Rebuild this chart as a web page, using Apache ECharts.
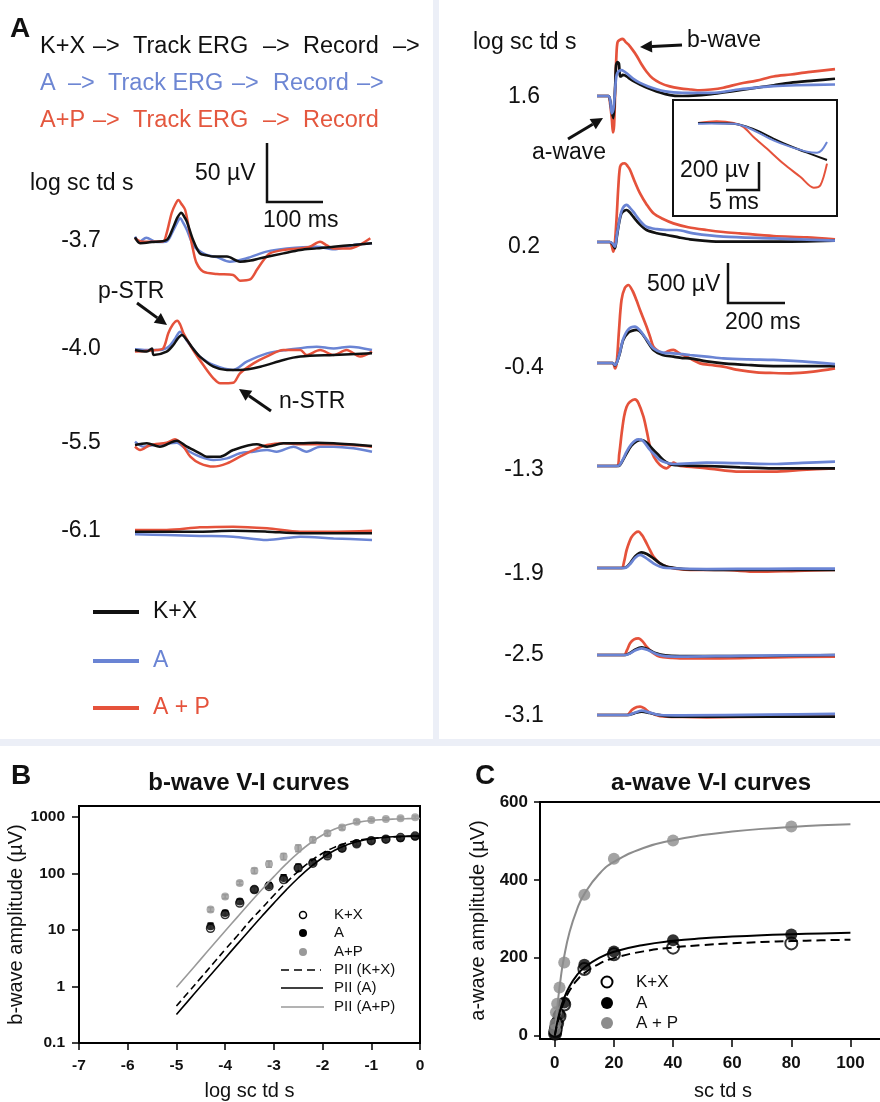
<!DOCTYPE html>
<html><head><meta charset="utf-8">
<script src="https://cdn.jsdelivr.net/npm/echarts@6/dist/echarts.min.js"></script>
<style>html,body{margin:0;padding:0;background:#fff}#c{width:880px;height:1102px}</style>
</head><body><div id="c"></div>
<script>
// ---------------- DATA ----------------
// Panel A left: STR traces [time ms, µV]
const strLabels = ['-3.7', '-4.0', '-5.5', '-6.1'];
const str37KX = [[0,4],[9,-1],[30,0],[56,1.7],[68,13],[75,21],[82,25.3],[87,22],[92,17.5],[103,1.7],[115,-9.8],[127,-11.5],[139,-12.6],[163,-12.6],[186,-17],[205,-16],[222,-14],[263,-9.8],[293,-6.9],[322,-5.5],[352,-4],[387,-2.6],[420,-1.1]];
const str37A = [[0,4.6],[8,0.3],[20,3.7],[38,0],[56,0.5],[68,10.3],[75,17],[80,20.4],[86,16],[92,10.3],[103,-2.6],[115,-8],[127,-11.2],[145,-13],[168,-17],[198,-14],[233,-8.3],[269,-5.5],[322,-4],[352,-6.3],[387,-2.6],[420,-1.1]];
const str37AP = [[0,3.2],[10,0.5],[30,0.3],[50,0.6],[56,7.5],[65,25],[72,33],[77,36.2],[82,33],[89,27.6],[97,7.5],[103,-6.9],[109,-18],[121,-25.6],[145,-27.6],[174,-28.4],[186,-33.3],[204,-32.2],[216,-24],[228,-15.5],[239,-9.8],[263,-6.9],[293,-5.5],[310,-4],[328,0.3],[340,-3],[352,-5.5],[381,-5.5],[400,-2],[417,3.2]];
const str40KX = [[0,0],[21,-1.4],[30,1.4],[33,-4.3],[56,-1.4],[68,4.3],[76,10],[83,12.9],[92,8.6],[103,1],[115,-5.7],[139,-14.4],[163,-17.2],[186,-17.2],[222,-14.4],[263,-8.6],[293,-5.7],[352,-4.3],[420,-2.9]];
const str40A = [[0,0.6],[20,0],[45,0],[60,3],[70,9],[80,15.8],[86,13],[92,8],[103,1],[115,-5.7],[139,-12.9],[174,-17.2],[198,-10.1],[234,-2.9],[269,0],[322,2.9],[352,1.4],[381,2.9],[420,0]];
const str40AP = [[0,-1.4],[38,0],[50,1.4],[59,14.4],[67,22],[75,25.3],[80,22],[86,14.4],[103,0],[121,-12.9],[139,-24.4],[151,-28.7],[174,-28.2],[186,-20.1],[210,-11.5],[233,-5.7],[263,0],[293,0],[304,-4.3],[328,0],[352,-4.3],[375,0],[399,-5.7],[420,-1.4]];
const str55KX = [[0,-0.9],[21,0.6],[44,-2.3],[74,2.9],[92,-2.3],[115,-8],[127,-10.9],[151,-10.9],[174,-5.2],[216,-0.3],[234,-2.3],[263,0.6],[293,0.6],[322,1.1],[352,0.6],[420,-1.7]];
const str55A = [[0,2],[15,-2.3],[33,-0.9],[74,1.1],[92,-5.2],[115,-10.9],[139,-13.8],[163,-12.4],[186,-8],[210,-6.6],[234,-5.2],[251,-6.6],[281,-2.3],[304,-6.6],[328,-2.3],[352,-2.3],[387,-3.7],[420,-6.6]];
const str55AP = [[0,-2.3],[9,-5.2],[27,-0.9],[56,1.1],[71,4],[86,-2.3],[98,-10.9],[115,-16.7],[139,-19.5],[163,-16.7],[186,-10.9],[210,-5.2],[234,-0.9],[263,0.6],[293,-0.3],[352,-0.3],[420,-2.3]];
const str61KX = [[0,0.3],[56,0.3],[115,0.3],[174,1.1],[234,0.3],[293,-1.1],[352,-1.1],[420,-1.1]];
const str61A = [[0,-2],[56,-2.6],[115,-3.4],[174,-4],[234,-6.9],[293,-4],[352,-5.5],[420,-6.9]];
const str61AP = [[0,1.7],[56,1.7],[115,4],[174,4.6],[234,3.2],[293,0.3],[352,0.3],[420,1.1]];

// Panel A right: ERG traces [time ms, µV]
const ergLabels = ['1.6', '0.2', '-0.4', '-1.3', '-1.9', '-2.5', '-3.1'];
const erg16KX = [[0,0],[40,0],[46,-60],[51,-183],[57,-288],[61,-100],[64,150],[67,400],[72,440],[77,421],[81,254],[86,260],[90,275],[97,270],[104,254],[125,200],[151,150],[180,100],[209,58],[240,25],[268,4],[300,0],[338,4],[400,25],[443,46],[500,75],[560,108],[620,140],[677,171],[760,200],[835,225]];
const erg16A = [[0,0],[40,0],[46,-50],[52,-225],[57,-180],[62,0],[66,200],[69,275],[75,320],[86,338],[95,320],[104,296],[125,230],[151,171],[180,125],[209,88],[240,60],[268,46],[300,40],[400,40],[502,88],[560,110],[619,129],[700,140],[835,150]];
const erg16AP = [[0,0],[40,0],[46,-100],[52,-300],[56,-475],[60,-380],[64,100],[68,520],[72,700],[80,730],[90,745],[100,705],[110,671],[125,600],[139,525],[155,420],[174,316],[195,230],[221,171],[255,125],[291,100],[330,85],[361,75],[400,85],[443,108],[500,160],[560,200],[619,254],[680,280],[740,310],[835,350]];
const erg02KX = [[0,0],[45,0],[55,-30],[63,-79],[69,50],[75,191],[81,300],[86,358],[95,390],[104,400],[115,370],[127,316],[150,220],[174,150],[210,110],[244,88],[290,55],[326,33],[380,15],[443,4],[620,4],[835,17]];
const erg02A = [[0,0],[45,0],[55,-20],[63,-58],[70,100],[75,200],[81,316],[90,420],[104,463],[115,430],[127,379],[150,270],[174,191],[210,160],[244,150],[280,150],[338,108],[443,67],[620,46],[835,17]];
const erg02AP = [[0,0],[45,0],[52,-50],[57,-121],[62,-40],[69,316],[75,700],[81,941],[90,980],[98,983],[107,950],[116,900],[133,750],[151,608],[174,470],[198,358],[230,290],[268,233],[320,185],[385,150],[443,125],[502,108],[619,75],[736,58],[835,33]];
const erg04KX = [[0,0],[55,0],[63,-30],[69,0],[80,120],[92,288],[110,380],[125,405],[139,413],[155,380],[175,280],[198,163],[230,100],[268,79],[300,62],[326,58],[385,20],[443,-4],[530,-25],[619,-38],[720,-38],[835,-38]];
const erg04A = [[0,0],[55,0],[63,-25],[69,0],[80,130],[92,300],[110,420],[133,454],[150,410],[175,290],[198,183],[230,130],[268,121],[300,110],[326,100],[385,80],[443,58],[530,45],[619,38],[720,20],[835,-13]];
const erg04AP = [[0,0],[55,0],[63,-67],[69,0],[77,400],[86,788],[98,940],[110,975],[125,900],[139,780],[151,663],[174,454],[186,330],[198,204],[215,150],[233,121],[250,150],[268,163],[290,120],[315,79],[340,30],[361,-4],[400,-25],[443,-46],[500,-90],[560,-117],[620,-125],[677,-129],[759,-108],[835,-67]];
const erg13KX = [[0,0],[69,0],[80,10],[92,80],[104,158],[120,250],[140,310],[157,325],[175,290],[198,200],[215,140],[233,75],[250,35],[268,13],[320,5],[385,0],[502,-17],[619,-29],[835,-29]];
const erg13A = [[0,0],[69,0],[80,15],[92,90],[104,179],[120,270],[135,320],[145,333],[160,320],[186,200],[205,130],[221,75],[244,40],[268,25],[385,42],[500,35],[619,25],[720,40],[835,54]];
const erg13AP = [[0,0],[69,0],[78,150],[86.5,408],[95,620],[104,742],[115,800],[133,833],[145,790],[163,617],[175,430],[186,242],[200,110],[221,13],[244,-29],[258,10],[268,42],[280,20],[291,0],[385,-29],[502,-71],[619,-71],[720,-50],[835,-29]];
const erg19KX = [[0,0],[90,0],[104,15],[116,58],[135,150],[157,196],[175,175],[198,121],[220,60],[244,17],[280,-5],[326,-17],[500,-25],[835,-25]];
const erg19A = [[0,0],[90,0],[104,10],[116,50],[135,130],[151,163],[170,130],[198,58],[220,20],[244,0],[385,-13],[600,-10],[835,-8]];
const erg19AP = [[0,0],[86,0],[95,80],[104,225],[120,380],[135,440],[145,454],[158,410],[168,350],[185,230],[198,142],[220,60],[244,17],[290,-15],[326,-25],[443,-25],[560,-46],[700,-35],[835,-25]];
const erg25KX = [[0,0],[100,0],[116,25],[135,70],[157,96],[180,70],[205,25],[240,-5],[291,-13],[500,-13],[835,0]];
const erg25A = [[0,0],[100,0],[116,20],[135,60],[157,83],[180,60],[210,10],[240,-15],[291,-21],[500,-10],[835,0]];
const erg25AP = [[0,0],[95,0],[105,60],[116,146],[130,195],[145,208],[160,170],[174,104],[195,30],[221,-21],[260,-35],[291,-42],[400,-42],[500,-40],[620,-29],[835,-21]];
const erg31KX = [[0,0],[110,0],[130,20],[157,42],[185,25],[210,5],[268,-21],[500,-21],[835,-21]];
const erg31A = [[0,0],[110,0],[130,25],[157,54],[185,30],[221,0],[300,-5],[600,5],[835,13]];
const erg31AP = [[0,0],[105,0],[122,63],[140,100],[151,104],[165,85],[186,30],[221,-13],[300,-25],[385,-29],[600,-21],[835,-21]];

// Inset: a-wave leading edge [time ms, µV]
const insKX = [[0,0],[2,0],[5.4,-5],[7.4,-26],[9.4,-64],[11.4,-111],[13.9,-164],[16.5,-212],[19.5,-264]];
const insA = [[0,-5],[2,-3],[5.4,-5],[7.4,-30],[9.4,-76],[11.4,-124],[13.9,-169],[16.5,-205],[18,-212],[18.7,-195],[19.5,-136]];
const insAP = [[0,0],[2.8,12],[5.4,0],[6.9,-29],[8.4,-100],[10.4,-183],[12.9,-290],[15.5,-386],[17.5,-462],[18.5,-445],[19.5,-290]];

// Panel B: b-wave V-I (log sc td s vs µV)
const bX = [-4.3,-4.0,-3.7,-3.4,-3.1,-2.8,-2.5,-2.2,-1.9,-1.6,-1.3,-1.0,-0.7,-0.4,-0.1];
const bKX = [10.7,18.7,30,52,59,78,125,152,205,280,335,380,405,432,460];
const bA = [11.7,20,32,52,61,83,128,157,214,280,344,378,405,421,450];
const bAP = [23,39,68,112,147,200,281,394,515,650,826,887,922,947,990];
const bErrA = [1.5,2,3,5,8,12,18,20,25,30,35,35,30,30,30];
const bErrAP = [2,3,5,12,18,25,38,45,50,55,55,50,50,50,50];
const bFitX = [-5,-4.75,-4.5,-4.25,-4,-3.75,-3.5,-3.25,-3,-2.75,-2.5,-2.25,-2,-1.75,-1.5,-1.25,-1,-0.75,-0.5,-0.25,0];
const bFitKX = [0.45,0.80,1.42,2.52,4.5,7.88,14.1,24.0,41.1,68.3,109,163,228,292,348,389,417,435,446,452,455];
const bFitA = [0.32,0.568,1.01,1.79,3.17,5.62,9.9,17.3,29.9,50.7,83.1,130,190,257,321,373,410,434,449,458,463];
const bFitAP = [0.97,1.72,3.05,5.42,9.6,16.9,29.7,51.5,88,146,232,346,480,612,725,809,865,900,921,934,941];
const bTicksY = [0.1, 1, 10, 100, 1000];

// Panel C: a-wave V-I (sc td s vs µV)
const cX = [0.1,0.2,0.4,0.8,1.6,3.2,10,20,40,80];
const cKX = [5,11,20,32,50,80,171,209,226,237];
const cA = [6,12,22,35,55,85,182,216,245,260];
const cAP = [15,30,60,82,124,188,362,454,501,537];
const cFitX = [0,0.5,1,2,3,5,7.5,10,15,20,30,40,50,60,70,80,90,100];
const cFitKX = [0,19.3,35.9,63.1,84.5,115.9,142.4,160.7,184.5,199.2,216.5,226.4,232.7,237.1,240.4,242.9,244.9,246.5];
const cFitA = [0,21.5,40,70,93.3,127,155.6,175,200,215.4,233,243.5,250,254.5,258,260.5,262.5,264];
const cFitAP = [0,45.6,84.6,147.4,196,266,324,364,415,446,482,502,515,524,531,536,540,543];
const cTicksX = [0,20,40,60,80,100];
const cTicksY = [0,200,400,600];

// ---------------- LAYOUT / STYLE ----------------
const FONT = '"Liberation Sans", Arial, sans-serif';
const BLACK = '#111111', BLUE = '#6a84d4', RED = '#e5523b', GRAY = '#8c8c8c';
const strBase = [242, 350, 444, 532];
const ergBase = [92, 242, 363, 466, 568, 655, 715];
const strSets = [[str37A,str37AP,str37KX],[str40A,str40AP,str40KX],[str55A,str55AP,str55KX],[str61A,str61AP,str61KX]];
const ergSets = [[erg16AP,erg16KX,erg16A],[erg02AP,erg02KX,erg02A],[erg04AP,erg04KX,erg04A],[erg13AP,erg13KX,erg13A],[erg19AP,erg19KX,erg19A],[erg25AP,erg25KX,erg25A],[erg31AP,erg31KX,erg31A]];

const grids = [], xAxes = [], yAxes = [], series = [];
function hiddenGrid(g, xr, yr) {
  const i = grids.length;
  grids.push(Object.assign({containLabel:false}, g));
  xAxes.push({type:'value', gridIndex:i, min:xr[0], max:xr[1], show:false});
  yAxes.push({type:'value', gridIndex:i, min:yr[0], max:yr[1], show:false});
  return i;
}
function trace(i, data, color, w) {
  series.push({type:'line', xAxisIndex:i, yAxisIndex:i, data:data, showSymbol:false, symbol:'none',
    smooth:0.3, clip:false, lineStyle:{color:color, width:w}, silent:true});
}
strBase.forEach((b, k) => {
  const i = hiddenGrid({left:135, width:237, top:b-58, height:116}, [0,420], [-50,50]);
  const s = strSets[k];
  trace(i, s[0], BLUE, 2.5); trace(i, s[1], RED, 2.5); trace(i, s[2], BLACK, 2.5);
});
ergBase.forEach((b, k) => {
  const i = hiddenGrid({left:597, width:238, top:b-100, height:200}, [0,835], [-1250,1250]);
  const s = ergSets[k];
  trace(i, s[0], RED, 2.7); trace(i, s[1], BLACK, 2.7); trace(i, s[2], BLUE, 2.7);
});
{
  const i = hiddenGrid({left:698, width:129, top:53, height:140}, [0,19.5], [-500,500]);
  trace(i, insAP, RED, 2); trace(i, insKX, BLACK, 2); trace(i, insA, BLUE, 2);
}

// Panel B grid
const axisCommon = {
  axisLine:{show:true, onZero:false, lineStyle:{color:'#000', width:2}},
  axisTick:{show:true, inside:false, length:7, lineStyle:{color:'#000', width:1.5}},
  splitLine:{show:false},
  nameTextStyle:{fontFamily:FONT, fontSize:20, color:'#111'}
};
const bI = grids.length;
grids.push({left:79, top:806, width:341, height:238, show:true, borderColor:'#000', borderWidth:2, backgroundColor:'transparent'});
xAxes.push(Object.assign({}, axisCommon, {type:'value', gridIndex:bI, min:-7, max:0, interval:1,
  name:'log sc td s', nameLocation:'middle', nameGap:38,
  axisLabel:{fontFamily:FONT, fontSize:15.5, fontWeight:'bold', color:'#111', margin:15}}));
yAxes.push(Object.assign({}, axisCommon, {type:'log', logBase:10, gridIndex:bI, min:0.1, max:1563,
  name:'b-wave amplitude (\u00b5V)', nameLocation:'middle', nameGap:50,
  axisTick:Object.assign({}, axisCommon.axisTick, {customValues:bTicksY}),
  axisLabel:{fontFamily:FONT, fontSize:15.5, fontWeight:'bold', color:'#111', margin:14, customValues:bTicksY,
    formatter:v => String(+v.toPrecision(3))}}));

// Panel C grid (right edge runs off the page, so no right frame line)
const cI = grids.length;
grids.push({left:540, top:802, width:340, height:238, show:false});
xAxes.push(Object.assign({}, axisCommon, {type:'value', gridIndex:cI, min:-5, max:110,
  name:'sc td s', nameLocation:'middle', nameGap:42,
  nameTextStyle:{fontFamily:FONT, fontSize:20, color:'#111', padding:[0,0,0,26]},
  axisTick:Object.assign({}, axisCommon.axisTick, {length:8, customValues:cTicksX}),
  axisLabel:{fontFamily:FONT, fontSize:17, fontWeight:'bold', color:'#111', margin:16, customValues:cTicksX}}));
const cTopX = xAxes.length;
xAxes.push({type:'value', gridIndex:cI, position:'top', min:-5, max:110,
  axisLine:{show:true, onZero:false, lineStyle:{color:'#000', width:2}},
  axisTick:{show:false}, axisLabel:{show:false}, splitLine:{show:false}});
yAxes.push(Object.assign({}, axisCommon, {type:'value', gridIndex:cI, min:-8.5, max:600,
  name:'a-wave amplitude (\u00b5V)', nameLocation:'middle', nameGap:52,
  axisTick:Object.assign({}, axisCommon.axisTick, {length:6, customValues:cTicksY}),
  axisLabel:{fontFamily:FONT, fontSize:17, fontWeight:'bold', color:'#111', margin:12, customValues:cTicksY}}));
const cY = yAxes.length - 1;

const zip = (xs, ys) => xs.map((x, k) => [x, ys[k]]);
// B fits
series.push({type:'line', xAxisIndex:bI, yAxisIndex:bI, data:zip(bFitX,bFitAP), showSymbol:false, smooth:true, lineStyle:{color:'#9a9a9a', width:1.6}});
series.push({type:'line', xAxisIndex:bI, yAxisIndex:bI, data:zip(bFitX,bFitKX), showSymbol:false, smooth:true, lineStyle:{color:'#000', width:1.6, type:[7,4]}});
series.push({type:'line', xAxisIndex:bI, yAxisIndex:bI, data:zip(bFitX,bFitA), showSymbol:false, smooth:true, lineStyle:{color:'#000', width:1.6}});
// B error bars
function errSeries(xs, ys, es, color) {
  return {type:'custom', xAxisIndex:bI, yAxisIndex:bI, data:xs.map((x,k)=>[x, ys[k], es[k]]),
    renderItem:(params, api) => {
      const x = api.value(0), y = api.value(1), e = api.value(2);
      const hi = api.coord([x, y + e]), lo = api.coord([x, y - e]);
      const cw = 3;
      return {type:'group', children:[
        {type:'line', shape:{x1:hi[0], y1:hi[1], x2:lo[0], y2:lo[1]}, style:{stroke:color, lineWidth:1.5}},
        {type:'line', shape:{x1:hi[0]-cw, y1:hi[1], x2:hi[0]+cw, y2:hi[1]}, style:{stroke:color, lineWidth:1.5}},
        {type:'line', shape:{x1:lo[0]-cw, y1:lo[1], x2:lo[0]+cw, y2:lo[1]}, style:{stroke:color, lineWidth:1.5}}
      ]};
    }};
}
series.push(errSeries(bX, bAP, bErrAP, '#999'));
series.push(errSeries(bX, bA, bErrA, '#000'));
series.push({type:'scatter', xAxisIndex:bI, yAxisIndex:bI, data:zip(bX,bKX), symbolSize:8, itemStyle:{color:'#fff', borderColor:'#000', borderWidth:1.5}});
series.push({type:'scatter', xAxisIndex:bI, yAxisIndex:bI, data:zip(bX,bA), symbolSize:8, itemStyle:{color:'#000'}});
series.push({type:'scatter', xAxisIndex:bI, yAxisIndex:bI, data:zip(bX,bAP), symbolSize:8, itemStyle:{color:'#999'}});
// C fits and points
const cXI = bI + 1;
series.push({type:'line', xAxisIndex:cXI, yAxisIndex:cY, data:zip(cFitX,cFitAP), showSymbol:false, smooth:true, lineStyle:{color:GRAY, width:2}});
series.push({type:'line', xAxisIndex:cXI, yAxisIndex:cY, data:zip(cFitX,cFitKX), showSymbol:false, smooth:true, lineStyle:{color:'#000', width:2, type:[9,5]}});
series.push({type:'line', xAxisIndex:cXI, yAxisIndex:cY, data:zip(cFitX,cFitA), showSymbol:false, smooth:true, lineStyle:{color:'#000', width:2}});
series.push({type:'scatter', xAxisIndex:cXI, yAxisIndex:cY, data:zip(cX,cKX), symbolSize:12, itemStyle:{color:'#fff', borderColor:'#000', borderWidth:2}});
series.push({type:'scatter', xAxisIndex:cXI, yAxisIndex:cY, data:zip(cX,cA), symbolSize:12, itemStyle:{color:'#000'}});
series.push({type:'scatter', xAxisIndex:cXI, yAxisIndex:cY, data:zip(cX,cAP), symbolSize:12, itemStyle:{color:GRAY}});

// ---------------- ANNOTATIONS ----------------
const G = [];
const T = (x, y, s, o) => G.push({type:'text', x:x, y:y, z:100, style:Object.assign({text:s, font:'23px ' + FONT, fill:'#111', textAlign:'left', textVerticalAlign:'middle'}, o || {})});
const L = (pts, w, c, dash) => G.push({type:'polyline', z:100, shape:{points:pts}, style:{stroke:c || '#111', lineWidth:w, fill:null, lineDash:dash || null}});
function arrow(x0, y0, x1, y1) {
  const a = Math.atan2(y1 - y0, x1 - x0), hl = 12, hw = 6;
  const bx = x1 - hl * Math.cos(a), by = y1 - hl * Math.sin(a);
  const px = -Math.sin(a) * hw, py = Math.cos(a) * hw;
  L([[x0, y0], [bx, by]], 3);
  G.push({type:'polygon', z:100, shape:{points:[[x1, y1], [bx + px, by + py], [bx - px, by - py]]}, style:{fill:'#111'}});
}
// separators
G.push({type:'rect', z:1, shape:{x:433, y:0, width:6, height:740}, style:{fill:'#eceff7'}});
G.push({type:'rect', z:1, shape:{x:0, y:739, width:880, height:7}, style:{fill:'#eceff7'}});
// panel letters
T(10, 29, 'A', {font:'bold 28px ' + FONT});
T(11, 776, 'B', {font:'bold 28px ' + FONT});
T(475, 776, 'C', {font:'bold 28px ' + FONT});
// protocol lines
const F23 = '23.5px ' + FONT;
[[40,'K+X'],[93,'\u2013>'],[133,'Track ERG'],[263,'\u2013>'],[303,'Record'],[393,'\u2013>']].forEach(p => T(p[0], 47, p[1], {font:F23, fill:'#111'}));
[[40,'A'],[68,'\u2013>'],[108,'Track ERG'],[232,'\u2013>'],[273,'Record'],[357,'\u2013>']].forEach(p => T(p[0], 84, p[1], {font:F23, fill:'#6d86d3'}));
[[40,'A+P'],[93,'\u2013>'],[133,'Track ERG'],[263,'\u2013>'],[303,'Record']].forEach(p => T(p[0], 121, p[1], {font:F23, fill:'#e4573e'}));
// left panel labels
T(30, 184, 'log sc td s');
strLabels.forEach((s, k) => T(81, strBase[k] - 1, s, {textAlign:'center'}));
T(195, 174, '50 \u00b5V');
T(263, 221, '100 ms');
L([[267, 143], [267, 202], [323, 202]], 2.5);
T(98, 292, 'p-STR');
arrow(137, 303, 167, 325);
T(279, 402, 'n-STR');
arrow(271, 411, 239, 389);
// left legend
[[612, BLACK, 'K+X'], [661, BLUE, 'A'], [708, RED, 'A + P']].forEach(r => {
  L([[93, r[0]], [139, r[0]]], 4, r[1]);
  T(153, r[0], r[2], {fill: r[1] === BLACK ? '#111' : r[1]});
});
// right panel labels
T(473, 43, 'log sc td s');
ergLabels.forEach((s, k) => T(524, [97, 247, 368, 470, 574, 655, 716][k], s, {textAlign:'center'}));
T(687, 41, 'b-wave');
arrow(682, 45, 640, 47);
T(532, 153, 'a-wave');
arrow(568, 139, 603, 118);
G.push({type:'rect', z:100, shape:{x:673, y:100, width:164, height:116}, style:{fill:null, stroke:'#111', lineWidth:2}});
T(680, 171, '200 \u00b5v');
L([[759, 162], [759, 190], [726, 190]], 2.5);
T(709, 203, '5 ms');
T(647, 285, '500 \u00b5V');
L([[728, 263], [728, 303], [785, 303]], 2.5);
T(725, 323, '200 ms');
// B title + legend
T(249, 783, 'b-wave V-I curves', {font:'bold 24px ' + FONT, textAlign:'center'});
const F15 = '15px ' + FONT;
G.push({type:'circle', z:100, shape:{cx:303, cy:915, r:3.5}, style:{fill:'#fff', stroke:'#000', lineWidth:1.5}});
G.push({type:'circle', z:100, shape:{cx:303, cy:933, r:4}, style:{fill:'#000'}});
G.push({type:'circle', z:100, shape:{cx:303, cy:952, r:4}, style:{fill:'#999'}});
L([[281, 970], [321, 970]], 1.6, '#000', [8, 5]);
L([[281, 988], [323, 988]], 1.6, '#000');
L([[281, 1007], [324, 1007]], 1.6, '#9a9a9a');
[[915,'K+X'],[933,'A'],[952,'A+P'],[970,'PII (K+X)'],[988,'PII (A)'],[1007,'PII (A+P)']].forEach(r => T(334, r[0], r[1], {font:F15}));
// C title + legend
T(711, 783, 'a-wave V-I curves', {font:'bold 24px ' + FONT, textAlign:'center'});
const F17 = '17px ' + FONT;
G.push({type:'circle', z:100, shape:{cx:607, cy:982, r:5.5}, style:{fill:'#fff', stroke:'#000', lineWidth:2}});
G.push({type:'circle', z:100, shape:{cx:607, cy:1003, r:6}, style:{fill:'#000'}});
G.push({type:'circle', z:100, shape:{cx:607, cy:1023, r:6}, style:{fill:GRAY}});
[[982,'K+X'],[1003,'A'],[1023,'A + P']].forEach(r => T(636, r[0], r[1], {font:F17}));

const chart = echarts.init(document.getElementById('c'), null, {renderer:'canvas'});
chart.setOption({
  animation:false,
  backgroundColor:'#ffffff',
  textStyle:{fontFamily:FONT},
  grid:grids, xAxis:xAxes, yAxis:yAxes, series:series, graphic:G
});
</script></body></html>
